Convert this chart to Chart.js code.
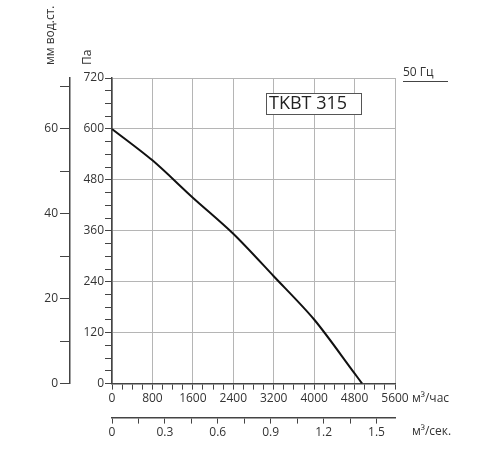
<!DOCTYPE html>
<html>
<head>
<meta charset="utf-8">
<script src="https://cdn.jsdelivr.net/npm/chart.js@4/dist/chart.umd.min.js"></script>
<style>
  html, body { margin: 0; padding: 0; background: #fff; }
  #wrap { width: 500px; height: 450px; }
</style>
</head>
<body>
<div id="wrap"><canvas id="chart"></canvas></div>
<script>
// Характеристика вентилятора TKBT 315, 50 Гц
const flowM3h = [0, 800, 1600, 2400, 3200, 4000, 4800, 4950];
const pressurePa = [600, 526, 438, 353, 253, 151, 24, 0];

const paMax = 720, mmMax = 72, flowMax = 5600, flowSecMax = 1.605;
const modelName = 'TKBT 315';
const freqLabel = '50 Гц';

const axisColor = '#444';
const gridColor = '#b5b5b5';
const tickFont = { family: 'Open Sans', size: 12 };

// Подписи осей и рамка с названием модели
const labelsPlugin = {
    id: 'labels',
    afterDraw(chart) {
        const ctx = chart.ctx;
        const area = chart.chartArea;
        ctx.save();
        ctx.fillStyle = '#333';
        ctx.font = '12px "Open Sans"';
        ctx.save();
        ctx.translate(51, 65); ctx.rotate(-Math.PI / 2);
        ctx.textAlign = 'left'; ctx.textBaseline = 'middle';
        ctx.fillText('мм вод.ст.', 0, 0);
        ctx.restore();
        ctx.save();
        ctx.translate(88, 65); ctx.rotate(-Math.PI / 2);
        ctx.textAlign = 'left'; ctx.textBaseline = 'middle';
        ctx.fillText('Па', 0, 0);
        ctx.restore();
        ctx.textAlign = 'left'; ctx.textBaseline = 'middle';
        ctx.fillText('м³/час', area.right + 17, 399);
        ctx.fillText('м³/сек.', area.right + 17, 432);
        ctx.fillText(freqLabel, 403, 73);
        ctx.strokeStyle = axisColor; ctx.lineWidth = 1;
        ctx.beginPath(); ctx.moveTo(403, 81.5); ctx.lineTo(448, 81.5); ctx.stroke();
        ctx.fillStyle = '#fff';
        ctx.fillRect(266, 93, 95, 21);
        ctx.strokeStyle = '#555';
        ctx.strokeRect(266.5, 93.5, 95, 21);
        ctx.fillStyle = '#222';
        ctx.font = '18px "Open Sans"';
        ctx.fillText(modelName, 269, 104);
        ctx.restore();
    }
};

new Chart(document.getElementById('chart'), {
    type: 'line',
    data: {
        datasets: [{
            data: flowM3h.map((x, i) => ({ x: x, y: pressurePa[i] })),
            borderColor: '#111',
            borderWidth: 2,
            pointRadius: 0,
            tension: 0.3,
            fill: false,
            xAxisID: 'x',
            yAxisID: 'y'
        }]
    },
    options: {
        responsive: true,
        maintainAspectRatio: false,
        animation: false,
        layout: { padding: { top: 78, right: 105, left: 20, bottom: 8 } },
        plugins: { legend: { display: false }, tooltip: { enabled: false } },
        scales: {
            x: {
                type: 'linear', position: 'bottom', min: 0, max: flowMax,
                afterFit: s => { s.height = 34; },
                border: { color: axisColor, width: 1.5 },
                grid: {
                    color: c => c.tick && c.tick.value % 800 === 0 ? gridColor : 'rgba(0,0,0,0)',
                    tickColor: axisColor, tickLength: 6
                },
                ticks: {
                    stepSize: 200, autoSkip: false, maxRotation: 0, padding: 2,
                    color: '#333', font: tickFont,
                    callback: v => v % 800 === 0 ? v : ''
                }
            },
            xs: {
                type: 'linear', position: 'bottom', min: 0, max: flowSecMax,
                border: { color: axisColor, width: 1.5 },
                grid: { drawOnChartArea: false, tickColor: axisColor, tickLength: 6 },
                ticks: {
                    stepSize: 0.15, includeBounds: false, autoSkip: false, maxRotation: 0, padding: 2,
                    color: '#333', font: tickFont,
                    callback: v => {
                        const k = Math.round(v / 0.15);
                        return k % 2 === 0 ? (k === 0 ? '0' : (k * 0.15).toFixed(1)) : '';
                    }
                }
            },
            y: {
                type: 'linear', position: 'left', min: 0, max: paMax,
                afterFit: s => { s.width = 42; },
                border: { color: axisColor, width: 1.5 },
                grid: {
                    color: c => c.tick && c.tick.value % 120 === 0 ? gridColor : 'rgba(0,0,0,0)',
                    tickColor: axisColor, tickLength: 7
                },
                ticks: {
                    stepSize: 30, autoSkip: false, padding: 1,
                    color: '#333', font: tickFont,
                    callback: v => v % 120 === 0 ? v : ''
                }
            },
            mm: {
                type: 'linear', position: 'left', min: 0, max: mmMax,
                afterFit: s => { s.width = 50; },
                border: { color: axisColor, width: 1.5 },
                grid: { drawOnChartArea: false, tickColor: axisColor, tickLength: 10 },
                ticks: {
                    stepSize: 10, includeBounds: false, autoSkip: false, padding: 2,
                    color: '#333', font: tickFont,
                    callback: v => v % 20 === 0 ? v : ''
                }
            }
        }
    },
    plugins: [labelsPlugin]
});
</script>
</body>
</html>
